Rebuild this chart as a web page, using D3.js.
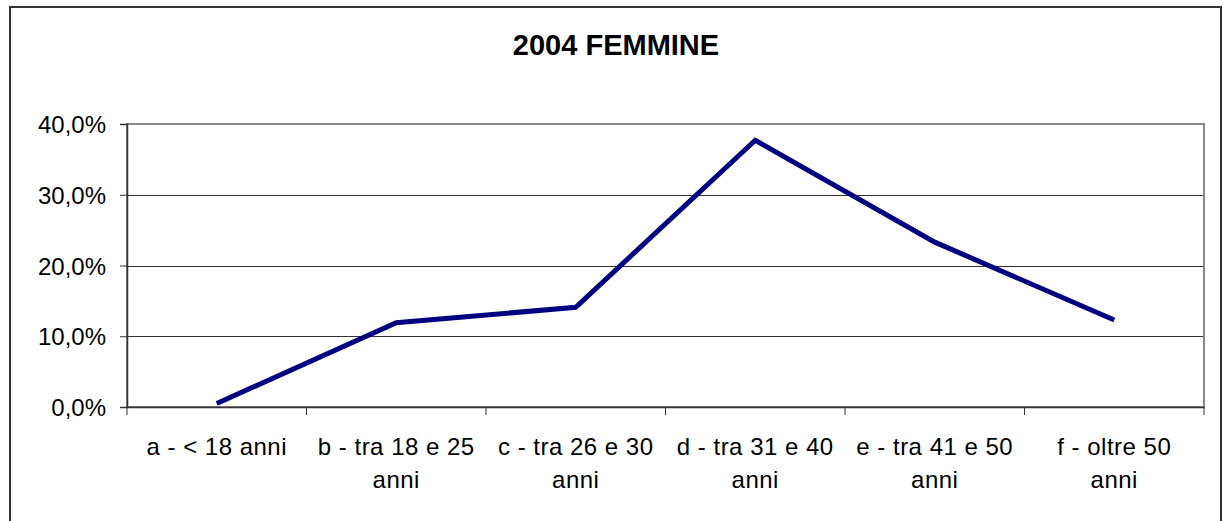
<!DOCTYPE html>
<html>
<head>
<meta charset="utf-8">
<script src="https://cdn.jsdelivr.net/npm/d3@7"></script>
<style>
  body { margin: 0; background: #fff; }
  text { font-family: Arial, "Liberation Sans", sans-serif; fill: #000; }
</style>
</head>
<body>
<div id="chartLine"></div>
<script>
var title = "2004 FEMMINE";
var categories = ["a - < 18 anni", "b - tra 18 e 25 anni", "c - tra 26 e 30 anni",
                  "d - tra 31 e 40 anni", "e - tra 41 e 50 anni", "f - oltre 50 anni"];
var values = [0.005, 0.119, 0.141, 0.377, 0.233, 0.123];
var yTicks = [0, 0.1, 0.2, 0.3, 0.4];

function init(){
    var W = 1223, H = 521;
    var margin = {top: 124, right: 19, bottom: 114, left: 127};
    var w = W - margin.left - margin.right;
    var h = H - margin.top - margin.bottom;

    var it = d3.formatLocale({decimal: ",", thousands: ".", grouping: [3], currency: ["", " €"]});
    var pct = it.format(".1%");

    var svg = d3.select("#chartLine")
                .append("svg")
                .attr("width", W)
                .attr("height", H);

    // outer chart frame (bottom edge falls outside the picture)
    svg.append("rect")
        .attr("x", 10).attr("y", 7)
        .attr("width", 1211).attr("height", 530)
        .attr("fill", "none")
        .attr("stroke", "#333")
        .attr("stroke-width", 2);

    svg.append("text")
        .attr("x", 616)
        .attr("y", 55)
        .attr("text-anchor", "middle")
        .style("font-size", "29px")
        .style("font-weight", "bold")
        .text(title);

    var g = svg.append("g")
               .attr("transform", "translate(" + margin.left + "," + margin.top + ")");

    var xScale = d3.scaleBand()
                   .domain(categories)
                   .range([0, w]);

    var yScale = d3.scaleLinear()
                   .domain([0, 0.4])
                   .range([h, 0]);

    // gridlines
    g.selectAll(".grid")
        .data(yTicks)
        .enter().append("line")
        .attr("class", "grid")
        .attr("x1", 0).attr("x2", w)
        .attr("y1", function(d){ return Math.round(yScale(d)) + 0.5; })
        .attr("y2", function(d){ return Math.round(yScale(d)) + 0.5; })
        .attr("stroke", "#333")
        .attr("stroke-width", 1);

    // plot area border
    g.append("rect")
        .attr("x", 0).attr("y", 0)
        .attr("width", w).attr("height", h)
        .attr("fill", "none")
        .attr("stroke", "#888")
        .attr("stroke-width", 2);

    var yAxis = d3.axisLeft(yScale)
                  .tickValues(yTicks)
                  .tickSize(7)
                  .tickPadding(14)
                  .tickFormat(pct);

    var ya = g.append("g").call(yAxis);
    ya.select(".domain").attr("stroke", "#333").attr("stroke-width", 1.5);
    ya.selectAll(".tick line").attr("stroke", "#333");
    ya.selectAll("text")
        .style("font-size", "24px")
        .attr("font-family", null)
        .attr("dy", "0.36em");

    var xAxis = d3.axisBottom(xScale)
                  .tickSize(0)
                  .tickPadding(31);

    var xa = g.append("g")
              .attr("transform", "translate(0," + h + ")")
              .call(xAxis);
    xa.select(".domain").attr("stroke", "#333").attr("stroke-width", 1.5);
    xa.selectAll("text")
        .style("font-size", "24px")
        .style("letter-spacing", "0.5px")
        .attr("font-family", null)
        .each(function(d){ wrap(d3.select(this), xScale.bandwidth() - 15); });

    // tick marks between categories
    var edges = categories.map(function(c){ return xScale(c); }).concat([w]);
    xa.selectAll(".edge")
        .data(edges)
        .enter().append("line")
        .attr("class", "edge")
        .attr("x1", function(d){ return d; })
        .attr("x2", function(d){ return d; })
        .attr("y1", 0).attr("y2", 8)
        .attr("stroke", "#333");

    var line = d3.line()
                 .x(function(d, i){ return xScale(categories[i]) + xScale.bandwidth() / 2; })
                 .y(function(d){ return yScale(d); });

    g.append("path")
        .datum(values)
        .attr("fill", "none")
        .attr("stroke", "#000080")
        .attr("stroke-width", 5)
        .attr("d", line);

    function wrap(text, width){
        var words = text.text().split(" ");
        var y0 = parseFloat(text.attr("y"));
        var lineHeight = 33;
        text.text(null);
        var lineWords = [], lineNo = 0;
        var tspan = text.append("tspan").attr("x", 0).attr("y", y0).attr("dy", "0.71em");
        words.forEach(function(word){
            lineWords.push(word);
            tspan.text(lineWords.join(" "));
            if (tspan.node().getComputedTextLength() > width && lineWords.length > 1){
                lineWords.pop();
                tspan.text(lineWords.join(" "));
                lineWords = [word];
                lineNo++;
                tspan = text.append("tspan")
                            .attr("x", 0)
                            .attr("y", y0 + lineNo * lineHeight)
                            .attr("dy", "0.71em")
                            .text(word);
            }
        });
    }
}
window.onload = init;
</script>
</body>
</html>
